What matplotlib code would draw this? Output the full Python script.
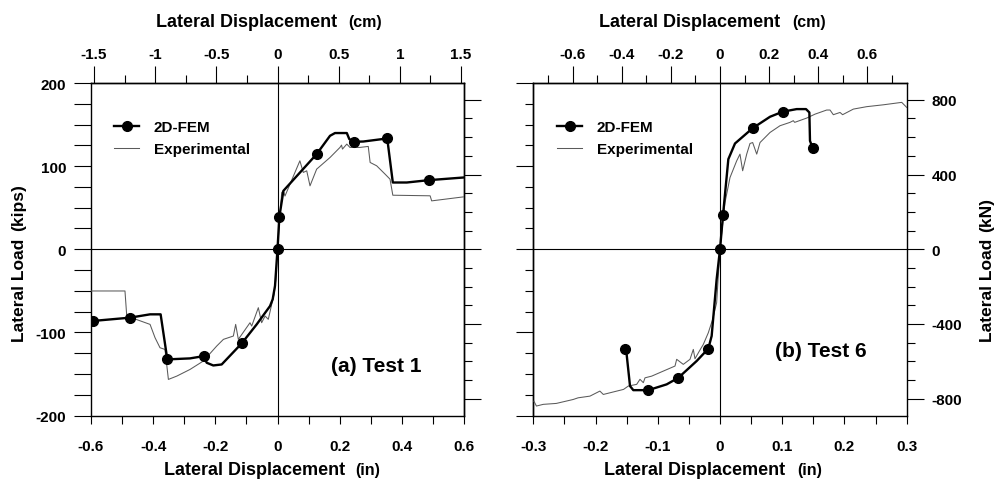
import matplotlib
matplotlib.use("Agg")
import matplotlib.pyplot as plt
from matplotlib.ticker import MultipleLocator, NullFormatter, FuncFormatter, FixedLocator

plt.rcParams['font.family'] = ['Liberation Sans', 'DejaVu Sans']
plt.rcParams['font.weight'] = 'bold'
plt.rcParams['axes.unicode_minus'] = False

# ---------------- data ----------------
# Test 1 (in, kips)
t1_fem_x = [-0.595, -0.4746, -0.410, -0.376, -0.3545, -0.2815, -0.2365, -0.228, -0.2066, -0.1796,
            -0.1153, -0.067, -0.024, -0.0155, -0.008, 0.0, 0.006, 0.019, 0.126, 0.169, 0.185,
            0.223, 0.231, 0.246, 0.276, 0.353, 0.371, 0.416, 0.486, 0.598]
t1_fem_y = [-86.3, -82.3, -78.3, -78.3, -132.5, -131.3, -128.5, -136.5, -139.8, -138.6,
            -113.3, -90.4, -68.3, -60.2, -44.0, 0.0, 39.0, 70.3, 114.5, 136.5, 139.8,
            139.8, 132.5, 129.3, 129.6, 133.3, 80.3, 80.3, 83.1, 86.3]
t1_fem_marks = [0, 1, 4, 6, 10, 15, 16, 18, 23, 25, 28]

t1_exp_x = [-0.6, -0.4907, -0.485, -0.410, -0.394, -0.378, -0.362, -0.351, -0.324, -0.2815,
            -0.2387, -0.1957, -0.174, -0.142, -0.1346, -0.126, -0.0885, -0.083, -0.0617, -0.051,
            -0.040, -0.0296, -0.0187, -0.011, -0.005, 0.0, 0.0135, 0.019, 0.024, 0.072,
            0.083, 0.094, 0.1046, 0.126, 0.169, 0.201, 0.206, 0.209, 0.223, 0.233,
            0.265, 0.292, 0.298, 0.319, 0.346, 0.362, 0.371, 0.491, 0.496, 0.598]
t1_exp_y = [-50.2, -50.2, -80.3, -90.4, -106.4, -118.5, -120.5, -156.6, -152.6, -144.6,
            -134.5, -116.5, -108.4, -104.4, -90.4, -108.4, -88.4, -92.4, -70.3, -88.4,
            -80.3, -84.3, -66.3, -54.0, -36.0, 0.0, 68.3, 70.3, 64.0, 106.4,
            92.4, 94.4, 76.3, 96.4, 110.4, 122.5, 125.3, 120.5, 126.5, 122.5,
            122.5, 123.7, 104.4, 100.4, 90.4, 84.3, 65.0, 64.3, 58.2, 63.0]

# Test 6 (in, kN)
t6_fem_x = [-0.1527, -0.15, -0.1446, -0.1393, -0.1152, -0.0857, -0.067, -0.0375, -0.0188, -0.0134,
            -0.0054, 0.0, 0.0048, 0.0134, 0.0241, 0.0525, 0.0804, 0.1007, 0.1232, 0.1382,
            0.1436, 0.1446, 0.149]
t6_fem_y = [-536, -563, -732, -754, -754, -723, -688, -598, -532, -464,
            -161, 0, 182, 482, 566, 648, 709, 736, 750, 750,
            732, 580, 541]
t6_fem_marks = [0, 4, 6, 8, 11, 12, 15, 17, 22]

t6_exp_x = [-0.299, -0.295, -0.284, -0.263, -0.236, -0.228, -0.209, -0.193, -0.1875, -0.155,
            -0.1473, -0.1339, -0.1286, -0.1232, -0.1205, -0.1098, -0.0911, -0.0723, -0.0696, -0.059,
            -0.0482, -0.0429, -0.0402, -0.0332, -0.0268, -0.0188, -0.0118, -0.0054, 0.0, 0.008,
            0.0161, 0.0268, 0.0321, 0.0364, 0.0429, 0.0482, 0.0525, 0.059, 0.0643, 0.0804,
            0.0964, 0.1125, 0.1178, 0.120, 0.1393, 0.1527, 0.1714, 0.1768, 0.1821, 0.1929,
            0.197, 0.2143, 0.2357, 0.2625, 0.292, 0.300]
t6_exp_y = [-813, -839, -830, -825, -804, -795, -786, -759, -777, -750,
            -732, -723, -696, -714, -688, -679, -652, -625, -589, -616,
            -589, -536, -586, -545, -509, -447, -375, -286, 0, 250,
            384, 473, 509, 420, 509, 566, 571, 509, 571, 625,
            661, 679, 688, 679, 702, 723, 745, 745, 720, 732,
            720, 750, 763, 773, 786, 759]

# tick values
t1_cm_major = [-1.5, -1.0, -0.5, 0.0, 0.5, 1.0, 1.5]
t1_cm_minor = [-1.25, -0.75, -0.25, 0.25, 0.75, 1.25]
t6_cm_major = [-0.6, -0.4, -0.2, 0.0, 0.2, 0.4, 0.6]
t6_cm_minor = [-0.7, -0.5, -0.3, -0.1, 0.1, 0.3, 0.5, 0.7]

legend_labels = ['2D-FEM', 'Experimental']
panel_labels = ['(a) Test 1', '(b) Test 6']

KN = 4.448222
in2cm = (lambda v: v * 2.54, lambda v: v / 2.54)
kip2kn = (lambda v: v * KN, lambda v: v / KN)
kn2kip = (lambda v: v / KN, lambda v: v * KN)

W, H = 996, 481
fig = plt.figure(figsize=(W / 100, H / 100), dpi=100)


def fx(px):
    return px / W


def fy(py):
    return 1 - py / H


def fmt(v, pos=None):
    r = round(v, 3)
    if abs(r) < 1e-9:
        return '0'
    return f"{r:g}"


FS_TICK = 11
LONG, SHORT = 12, 5.8
LW_SP = 1.0
FEM_KW = dict(color='black', lw=1.7, marker='o', ms=7, zorder=4)
EXP_KW = dict(color='#5a5a5a', lw=0.75, zorder=3)

ax1 = fig.add_axes([fx(91), fy(416.5), fx(464 - 91), (416.5 - 84) / H])
ax2 = fig.add_axes([fx(533.3), fy(416.5), fx(906.7 - 533.3), (416.5 - 84) / H])

for ax in (ax1, ax2):
    for s in ax.spines.values():
        s.set_linewidth(LW_SP)
    ax.axhline(0, color='black', lw=0.8, zorder=1)
    ax.axvline(0, color='black', lw=0.8, zorder=1)

# ---- panel (a)
ax1.plot(t1_fem_x, t1_fem_y, markevery=t1_fem_marks, label=legend_labels[0], **FEM_KW)
ax1.plot(t1_exp_x, t1_exp_y, label=legend_labels[1], **EXP_KW)
ax1.set_xlim(-0.6, 0.6)
ax1.set_ylim(-200, 200)
ax1.xaxis.set_major_locator(MultipleLocator(0.2))
ax1.xaxis.set_minor_locator(MultipleLocator(0.1))
ax1.xaxis.set_major_formatter(FuncFormatter(fmt))
ax1.yaxis.set_major_locator(MultipleLocator(100))
ax1.yaxis.set_minor_locator(MultipleLocator(25))
ax1.yaxis.set_major_formatter(FuncFormatter(fmt))
ax1.tick_params(axis='x', which='both', direction='out', length=5.8, width=0.8,
                labelsize=FS_TICK, pad=11, top=False)
ax1.tick_params(axis='y', which='both', direction='out', length=LONG, width=0.8,
                labelsize=FS_TICK, pad=6, right=False)

s1x = ax1.secondary_xaxis('top', functions=in2cm)
s1x.xaxis.set_major_locator(FixedLocator(t1_cm_major))
s1x.xaxis.set_minor_locator(FixedLocator(t1_cm_minor))
s1x.xaxis.set_major_formatter(FuncFormatter(fmt))
s1x.tick_params(axis='x', which='major', direction='out', length=LONG, width=0.8,
                labelsize=FS_TICK, pad=3.5)
s1x.tick_params(axis='x', which='minor', direction='out', length=SHORT, width=0.8)
s1x.spines['top'].set_linewidth(LW_SP)

s1y = ax1.secondary_yaxis('right', functions=kip2kn)
s1y.yaxis.set_major_locator(FixedLocator([-800, -400, 0, 400, 800]))
s1y.yaxis.set_minor_locator(MultipleLocator(100))
s1y.yaxis.set_major_formatter(NullFormatter())
s1y.tick_params(axis='y', which='major', direction='out', length=LONG, width=0.8)
s1y.tick_params(axis='y', which='minor', direction='out', length=SHORT, width=0.8)
s1y.spines['right'].set_linewidth(LW_SP)

# ---- panel (b)
ax2.plot(t6_fem_x, t6_fem_y, markevery=t6_fem_marks, label=legend_labels[0], **FEM_KW)
ax2.plot(t6_exp_x, t6_exp_y, label=legend_labels[1], **EXP_KW)
ax2.set_xlim(-0.3, 0.3)
ax2.set_ylim(-200 * KN, 200 * KN)
ax2.xaxis.set_major_locator(MultipleLocator(0.1))
ax2.xaxis.set_minor_locator(MultipleLocator(0.05))
ax2.xaxis.set_major_formatter(FuncFormatter(fmt))
ax2.yaxis.tick_right()
ax2.yaxis.set_major_locator(MultipleLocator(400))
ax2.yaxis.set_minor_locator(MultipleLocator(100))
ax2.yaxis.set_major_formatter(FuncFormatter(fmt))
ax2.tick_params(axis='x', which='both', direction='out', length=5.8, width=0.8,
                labelsize=FS_TICK, pad=11, top=False)
ax2.tick_params(axis='y', which='major', direction='out', length=LONG, width=0.8,
                labelsize=FS_TICK, pad=6, left=False)
ax2.tick_params(axis='y', which='minor', direction='out', length=SHORT, width=0.8, left=False)

s2x = ax2.secondary_xaxis('top', functions=in2cm)
s2x.xaxis.set_major_locator(FixedLocator(t6_cm_major))
s2x.xaxis.set_minor_locator(FixedLocator(t6_cm_minor))
s2x.xaxis.set_major_formatter(FuncFormatter(fmt))
s2x.tick_params(axis='x', which='major', direction='out', length=LONG, width=0.8,
                labelsize=FS_TICK, pad=3.5)
s2x.tick_params(axis='x', which='minor', direction='out', length=SHORT, width=0.8)
s2x.spines['top'].set_linewidth(LW_SP)

s2y = ax2.secondary_yaxis('left', functions=kn2kip)
s2y.yaxis.set_major_locator(FixedLocator([-200, -100, 0, 100, 200]))
s2y.yaxis.set_minor_locator(MultipleLocator(25))
s2y.yaxis.set_major_formatter(NullFormatter())
s2y.tick_params(axis='y', which='major', direction='out', length=LONG, width=0.8)
s2y.tick_params(axis='y', which='minor', direction='out', length=SHORT, width=0.8)
s2y.spines['left'].set_linewidth(LW_SP)

# ---- legends and panel labels
for ax, bx in ((ax1, 0.0617), (ax2, 0.0635)):
    ax.legend(loc='upper left', bbox_to_anchor=(bx, 0.888), frameon=False,
              borderaxespad=0, borderpad=0, handlelength=1.65, handletextpad=0.95,
              labelspacing=0.5, prop=dict(size=11, weight='bold'))

ax1.text(0.765, 0.15, panel_labels[0], transform=ax1.transAxes, ha='center', va='center',
         fontsize=15, fontweight='bold')
ax2.text(0.769, 0.195, panel_labels[1], transform=ax2.transAxes, ha='center', va='center',
         fontsize=15, fontweight='bold')

# ---- axis titles (two sizes)
TITLE, UNIT = 13, 11.5
for (xr, xl, yb, unit) in ((337, 348, 26.7, '(cm)'), (345, 355, 475, '(in)'),
                           (780, 792, 26.7, '(cm)'), (785, 797, 475, '(in)')):
    fig.text(fx(xr), fy(yb), 'Lateral Displacement', ha='right', va='baseline',
             fontsize=TITLE, fontweight='bold')
    fig.text(fx(xl), fy(yb), unit, ha='left', va='baseline', fontsize=UNIT, fontweight='bold')

VT, VU = 12.5, 12.5
fig.text(fx(19), fy(342), 'Lateral Load', rotation=90, ha='center', va='bottom',
         fontsize=VT, fontweight='bold')
fig.text(fx(19), fy(231), '(kips)', rotation=90, ha='center', va='bottom',
         fontsize=VU, fontweight='bold')
fig.text(fx(987), fy(342), 'Lateral Load', rotation=90, ha='center', va='bottom',
         fontsize=VT, fontweight='bold')
fig.text(fx(987), fy(232), '(kN)', rotation=90, ha='center', va='bottom',
         fontsize=VU, fontweight='bold')

fig.savefig('out.png', dpi=100)
